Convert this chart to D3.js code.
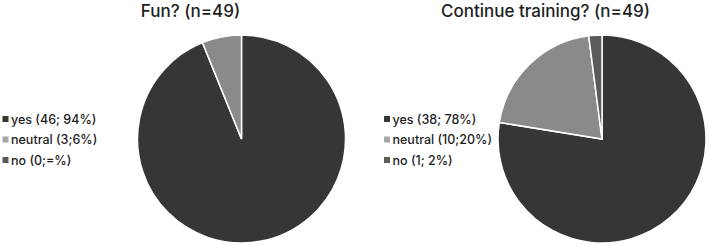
<!DOCTYPE html>
<html>
<head>
<meta charset="utf-8">
<script src="https://cdn.jsdelivr.net/npm/d3@7"></script>
<style>
  body { margin: 0; background: #fff; }
  text { font-family: Inter, "Liberation Sans", Arial, sans-serif; }
</style>
</head>
<body>
<script>
// data
let categories = ["yes", "neutral", "no"];
let funValues = [46, 3, 0];
let funLabels = ["yes (46; 94%)", "neutral (3;6%)", "no (0;=%)"];
let trainValues = [38, 10, 1];
let trainLabels = ["yes (38; 78%)", "neutral (10;20%)", "no (1; 2%)"];
let titles = ["Fun? (n=49)", "Continue training? (n=49)"];
let colors = ["#363636", "#8a8a8a", "#5a5a5a"];

let width = 709,
    height = 245;

let svg = d3.select("body")
    .append("svg")
    .attr("width", width)
    .attr("height", height);

let color = d3.scaleOrdinal().domain(categories).range(colors);

let charts = [
    {title: titles[0], values: funValues, labels: funLabels, cx: 241.5, titleX: 190.5, legendX: 2.5},
    {title: titles[1], values: trainValues, labels: trainLabels, cx: 602, titleX: 545.5, legendX: 384}
];

let radius = 104,
    cy = 139;

let pie = d3.pie().sort(null).value(function(d){ return d.value; });
let arc = d3.arc().innerRadius(0).outerRadius(radius);

charts.forEach(function(c){
    let data = categories.map(function(k, i){
        return {key: k, value: c.values[i], label: c.labels[i]};
    });

    svg.append("text")
        .attr("x", c.titleX)
        .attr("y", 17)
        .attr("text-anchor", "middle")
        .style("font-size", "17px")
        .style("font-weight", 500)
        .style("fill", "#1e1e1e")
        .text(c.title);

    let g = svg.append("g")
        .attr("transform", "translate(" + c.cx + "," + cy + ")");

    g.selectAll("path")
        .data(pie(data).filter(function(d){ return d.data.value > 0; }))
        .enter()
        .append("path")
        .attr("d", arc)
        .attr("fill", function(d){ return color(d.data.key); })
        .attr("stroke", "#fff")
        .attr("stroke-width", 1.5);

    let legend = svg.append("g")
        .attr("transform", "translate(" + c.legendX + ",0)");

    let rows = legend.selectAll("g")
        .data(data)
        .enter()
        .append("g")
        .attr("transform", function(d, i){ return "translate(0," + (119 + i * 20.5) + ")"; });

    rows.append("rect")
        .attr("x", 0)
        .attr("y", -3)
        .attr("width", 6)
        .attr("height", 6)
        .attr("fill", function(d){ return d.key === "neutral" ? "#a6a6a6" : color(d.key); });

    rows.append("text")
        .attr("x", 8.5)
        .attr("y", 4.5)
        .style("font-size", "12.5px")
        .style("font-weight", 500)
        .style("fill", "#1e1e1e")
        .text(function(d){ return d.label; });
});
</script>
</body>
</html>
